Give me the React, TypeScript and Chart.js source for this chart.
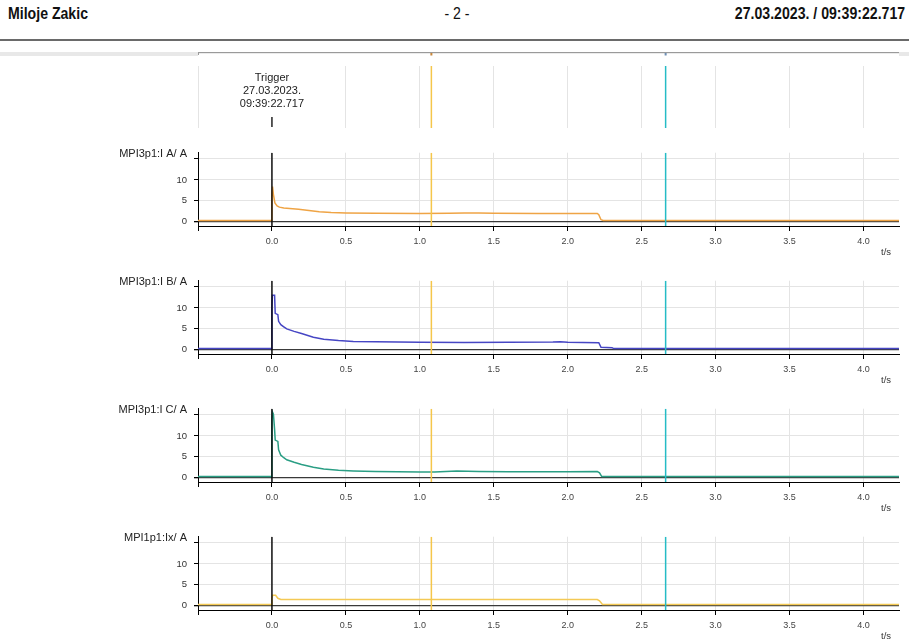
import React, { useEffect, useRef } from "react";
import { Chart, registerables } from "chart.js";

Chart.register(...registerables);

// ---------- data ----------
const headerLeft = "Miloje Zakic";
const headerCenter = "- 2 -";
const headerRight = "27.03.2023. / 09:39:22.717";
const triggerLines = ["Trigger", "27.03.2023.", "09:39:22.717"];

const xTicks = [-0.5, 0, 0.5, 1, 1.5, 2, 2.5, 3, 3.5, 4];
const yTicks = [0, 5, 10, 15];
const xMin = -0.5;
const xMax = 4.24;
const yMin = -1;
const yMax = 16.5;

const triggerTime = 0;
const cursor1Time = 1.078;
const cursor2Time = 2.662;

const seriesNames = ["MPI3p1:I A/ A", "MPI3p1:I B/ A", "MPI3p1:I C/ A", "MPI1p1:Ix/ A"];

const tA = [-0.5, -0.002, 0.0, 0.004, 0.01, 0.02, 0.035, 0.05, 0.08, 0.12, 0.18, 0.25, 0.32, 0.4, 0.5, 0.7, 1.0, 1.2, 1.3, 1.4, 1.5, 1.8, 2.0, 2.2, 2.21, 2.225, 2.24, 4.24];
const iA = [0.3, 0.3, 6.0, 8.4, 6.5, 4.5, 3.8, 3.5, 3.3, 3.2, 3.0, 2.7, 2.4, 2.2, 2.1, 2.05, 2.0, 2.05, 2.1, 2.08, 2.02, 2.0, 2.0, 2.0, 1.7, 0.5, 0.3, 0.3];

const tB = [-0.5, -0.003, 0.0, 0.003, 0.018, 0.022, 0.04, 0.045, 0.06, 0.08, 0.1, 0.15, 0.2, 0.28, 0.35, 0.45, 0.55, 0.7, 1.0, 1.3, 1.6, 1.9, 1.95, 2.0, 2.1, 2.21, 2.225, 2.3, 2.31, 4.24];
const iB = [0.3, 0.3, 10.0, 13.0, 13.0, 8.7, 8.4, 6.8, 6.0, 5.5, 5.0, 4.4, 3.9, 3.0, 2.5, 2.2, 2.0, 1.95, 1.8, 1.75, 1.8, 1.85, 1.95, 1.8, 1.75, 1.7, 0.6, 0.5, 0.3, 0.3];

const tC = [-0.5, -0.003, 0.0, 0.004, 0.01, 0.018, 0.022, 0.04, 0.045, 0.06, 0.08, 0.1, 0.15, 0.2, 0.28, 0.35, 0.45, 0.55, 0.7, 1.0, 1.1, 1.25, 1.4, 1.6, 2.0, 2.2, 2.215, 2.23, 4.24];
const iC = [0.3, 0.3, 14.0, 15.7, 15.2, 11.5, 9.0, 8.7, 6.7, 5.4, 4.8, 4.3, 3.7, 3.2, 2.5, 2.1, 1.8, 1.65, 1.5, 1.4, 1.4, 1.6, 1.5, 1.45, 1.45, 1.5, 1.2, 0.3, 0.3];

const tX = [-0.5, -0.003, 0.0, 0.005, 0.025, 0.04, 0.06, 0.5, 1.0, 1.5, 2.0, 2.2, 2.215, 2.235, 4.24];
const iX = [0.3, 0.3, 1.8, 2.5, 2.5, 1.8, 1.5, 1.5, 1.5, 1.5, 1.5, 1.5, 1.2, 0.3, 0.3];

const seriesTimes = [tA, tB, tC, tX];
const seriesValues = [iA, iB, iC, iX];
const seriesColors = ["#efa445", "#4646c4", "#2a9e84", "#f4c955"];

// ---------- layout ----------
const W = 909;
const FONT = '"Liberation Sans", Arial, sans-serif';
const PANEL_TOP0 = 140;
const PANEL_STEP = 128;
const PANEL_H = 128;
const LEFT = 198;
const RIGHT_PAD = 10;

function cursorData(t: number, lo: number, hi: number) {
  return [
    { x: t, y: lo },
    { x: t, y: hi },
  ];
}

export default function App() {
  const stripRef = useRef<HTMLCanvasElement | null>(null);
  const p0 = useRef<HTMLCanvasElement | null>(null);
  const p1 = useRef<HTMLCanvasElement | null>(null);
  const p2 = useRef<HTMLCanvasElement | null>(null);
  const p3 = useRef<HTMLCanvasElement | null>(null);
  const panelRefs = [p0, p1, p2, p3];

  useEffect(() => {
    const charts: Chart[] = [];

    // ---- top strip ----
    if (stripRef.current) {
      const stripPlugin = {
        id: "stripDeco",
        beforeDraw(chart: any) {
          const { ctx, scales } = chart;
          const xs = scales.x;
          const l = xs.getPixelForValue(xMin);
          const r = xs.getPixelForValue(xMax);
          ctx.save();
          ctx.fillStyle = "#e8e8e8";
          ctx.fillRect(0, 8, l, 4);
          ctx.fillRect(r, 8, W - r, 4);
          ctx.fillStyle = "#9a9a9a";
          ctx.fillRect(l, 8, r - l, 1.2);
          ctx.fillRect(l, 8, 1, 3);
          ctx.fillStyle = "#c8873a";
          ctx.fillRect(xs.getPixelForValue(cursor1Time) - 1, 9, 2, 2.5);
          ctx.fillStyle = "#6f8fb3";
          ctx.fillRect(xs.getPixelForValue(cursor2Time) - 1, 9, 2, 2.5);
          ctx.restore();
        },
        afterDraw(chart: any) {
          const { ctx, scales } = chart;
          const x = scales.x.getPixelForValue(triggerTime);
          ctx.save();
          ctx.font = "11px " + FONT;
          ctx.fillStyle = "#222";
          ctx.textAlign = "center";
          ctx.textBaseline = "middle";
          triggerLines.forEach((s, i) => ctx.fillText(s, x, 34 + i * 13.2));
          ctx.restore();
        },
      };
      charts.push(
        new Chart(stripRef.current, {
          type: "line",
          data: {
            datasets: [
              { data: cursorData(triggerTime, 0.016, 0.177), borderColor: "#000", borderWidth: 1.3 },
              { data: cursorData(cursor1Time, 0, 1), borderColor: "#f5c64a", borderWidth: 1.5 },
              { data: cursorData(cursor2Time, 0, 1), borderColor: "#25bcc6", borderWidth: 1.5 },
            ],
          },
          options: {
            animation: false,
            responsive: false,
            maintainAspectRatio: false,
            layout: { padding: { left: LEFT, right: RIGHT_PAD, top: 22, bottom: 12 } },
            plugins: { legend: { display: false }, tooltip: { enabled: false } },
            elements: { point: { radius: 0 }, line: { tension: 0 } },
            scales: {
              x: {
                type: "linear",
                min: xMin,
                max: xMax,
                afterBuildTicks: (s: any) => {
                  s.ticks = xTicks.map((v) => ({ value: v }));
                },
                ticks: { display: false },
                grid: {
                  drawTicks: false,
                  color: (c: any) => (c.tick && c.tick.value === 0 ? "rgba(0,0,0,0)" : "#e4e4e4"),
                },
                border: { display: false },
                afterFit: (s: any) => {
                  s.height = 0;
                },
              },
              y: { display: false, min: 0, max: 1 },
            },
          },
          plugins: [stripPlugin],
        } as any)
      );
    }

    // ---- panels ----
    panelRefs.forEach((ref, i) => {
      if (!ref.current) return;
      const name = seriesNames[i];
      const panelPlugin = {
        id: "panelText" + i,
        afterDraw(chart: any) {
          const { ctx, chartArea } = chart;
          ctx.save();
          ctx.font = "11px " + FONT;
          ctx.fillStyle = "#222";
          ctx.textAlign = "right";
          ctx.textBaseline = "middle";
          ctx.fillText(name, chartArea.left - 11, chartArea.top + 1);
          ctx.font = "9.5px " + FONT;
          ctx.textAlign = "center";
          ctx.fillStyle = "#333";
          ctx.fillText("t/s", chartArea.right - 13, chartArea.bottom + 26);
          ctx.restore();
        },
      };
      const series = seriesTimes[i].map((t, k) => ({ x: t, y: seriesValues[i][k] }));
      charts.push(
        new Chart(ref.current, {
          type: "line",
          data: {
            datasets: [
              { data: cursorData(triggerTime, yMin, yMax), borderColor: "#000", borderWidth: 1.4 },
              { data: cursorData(cursor1Time, yMin, yMax), borderColor: "#f5c64a", borderWidth: 1.5 },
              { data: cursorData(cursor2Time, yMin, yMax), borderColor: "#25bcc6", borderWidth: 1.5 },
              { data: series, borderColor: seriesColors[i], borderWidth: 1.5 },
            ],
          },
          options: {
            animation: false,
            responsive: false,
            maintainAspectRatio: false,
            layout: { padding: { left: 0, right: RIGHT_PAD, top: 12, bottom: 0 } },
            plugins: { legend: { display: false }, tooltip: { enabled: false } },
            elements: { point: { radius: 0 }, line: { tension: 0 } },
            scales: {
              x: {
                type: "linear",
                min: xMin,
                max: xMax,
                afterBuildTicks: (s: any) => {
                  s.ticks = xTicks.map((v) => ({ value: v }));
                },
                ticks: {
                  autoSkip: false,
                  maxRotation: 0,
                  padding: 5,
                  color: "#444",
                  font: { size: 9, family: FONT },
                  callback: (v: any) => (Number(v) < 0 ? "" : Number(v).toFixed(1)),
                },
                grid: { color: "#e4e4e4", tickColor: "#000", tickLength: 5 },
                border: { color: "#000", width: 1 },
                afterFit: (s: any) => {
                  s.height = 42;
                },
              },
              y: {
                min: yMin,
                max: yMax,
                afterBuildTicks: (s: any) => {
                  s.ticks = yTicks.map((v) => ({ value: v }));
                },
                ticks: {
                  padding: 7,
                  color: "#333",
                  font: { size: 9.5, family: FONT },
                  callback: (v: any) => (Number(v) === 15 ? "" : String(v)),
                },
                grid: {
                  color: (c: any) => (c.tick && c.tick.value === 0 ? "#3a3a3a" : "#e4e4e4"),
                  lineWidth: (c: any) => (c.tick && c.tick.value === 0 ? 1.3 : 1),
                  tickColor: "#000",
                  tickLength: 4,
                },
                border: { color: "#000", width: 1 },
                afterFit: (s: any) => {
                  s.width = LEFT;
                },
              },
            },
          },
          plugins: [panelPlugin],
        } as any)
      );
    });

    return () => charts.forEach((c) => c.destroy());
  }, []);

  const headStyle: React.CSSProperties = {
    position: "absolute",
    top: 4,
    font: "bold 17px " + FONT,
    color: "#111",
    whiteSpace: "nowrap",
    lineHeight: "19px",
  };

  return (
    <div
      style={{
        position: "absolute",
        left: 0,
        top: 0,
        width: W,
        height: 639,
        overflow: "hidden",
        background: "#fff",
      }}
    >
      <div style={{ ...headStyle, left: 8, transform: "scaleX(0.83)", transformOrigin: "left top" }}>{headerLeft}</div>
      <div
        style={{
          ...headStyle,
          fontWeight: "normal",
          left: 457,
          transform: "translateX(-50%) scaleX(0.83)",
          transformOrigin: "center top",
        }}
      >
        {headerCenter}
      </div>
      <div style={{ ...headStyle, right: 4, transform: "scaleX(0.83)", transformOrigin: "right top" }}>{headerRight}</div>
      <div style={{ position: "absolute", left: 0, top: 39, width: W, height: 2, background: "#6a6a6a" }} />
      <canvas
        ref={stripRef}
        width={W}
        height={96}
        style={{ position: "absolute", left: 0, top: 44, width: W, height: 96 }}
      />
      {panelRefs.map((r, i) => (
        <canvas
          key={i}
          ref={r}
          width={W}
          height={PANEL_H}
          style={{ position: "absolute", left: 0, top: PANEL_TOP0 + i * PANEL_STEP, width: W, height: PANEL_H }}
        />
      ))}
    </div>
  );
}
